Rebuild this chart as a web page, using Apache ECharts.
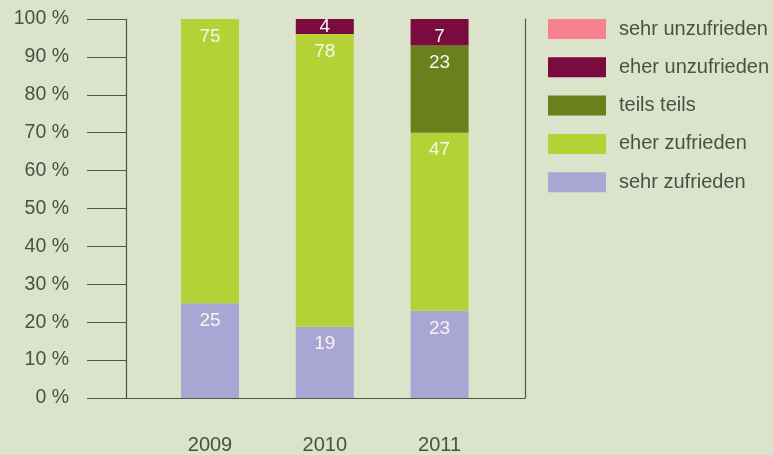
<!DOCTYPE html>
<html>
<head>
<meta charset="utf-8">
<script src="https://cdn.jsdelivr.net/npm/echarts@6/dist/echarts.min.js"></script>
<style>
  html, body { margin: 0; padding: 0; background: #dce3cb; }
  #chart { width: 773px; height: 455px; }
</style>
</head>
<body>
<div id="chart"></div>
<script>
// Zufriedenheit nach Jahr (Antworten je Kategorie)
const years = ['2009', '2010', '2011'];
const sehrZufrieden = [25, 19, 23];
const eherZufrieden = [75, 78, 47];
const teilsTeils = [0, 0, 23];
const eherUnzufrieden = [0, 4, 7];
const sehrUnzufrieden = [0, 0, 0];
const yTicks = [0, 10, 20, 30, 40, 50, 60, 70, 80, 90, 100];

const groups = [
  { name: 'sehr zufrieden', values: sehrZufrieden, color: '#a9a6d4' },
  { name: 'eher zufrieden', values: eherZufrieden, color: '#b4d235' },
  { name: 'teils teils', values: teilsTeils, color: '#6b7f1c' },
  { name: 'eher unzufrieden', values: eherUnzufrieden, color: '#7a0b3e' },
  { name: 'sehr unzufrieden', values: sehrUnzufrieden, color: '#f7818f' }
];

// each year is drawn as a 100 % column: shares of the year's total
const totals = years.map((_, i) => groups.reduce((s, g) => s + g.values[i], 0));

const FONT = 'Liberation Sans, Arial, sans-serif';
const AXIS = '#4f5641';
const TEXT = '#4b5046';

const chart = echarts.init(document.getElementById('chart'), null, { renderer: 'canvas' });

chart.setOption({
  backgroundColor: '#dce3cb',
  animation: false,
  textStyle: { fontFamily: FONT },
  legend: {
    orient: 'vertical',
    left: 543,
    top: 14,
    itemWidth: 58,
    itemHeight: 20,
    itemGap: 18.3,
    icon: 'rect',
    selectedMode: false,
    data: groups.slice().reverse().map(g => g.name),
    textStyle: { fontSize: 20, color: TEXT, fontFamily: FONT, padding: [0, 0, 0, 8] }
  },
  grid: [
    // frame with the axes
    { left: 126, right: 248, top: 19, bottom: 57, containLabel: false },
    // columns
    { left: 152.6, right: 276, top: 19, bottom: 57, containLabel: false }
  ],
  xAxis: [
    {
      gridIndex: 0, type: 'value', min: 0, max: 1,
      axisLine: { show: true, onZero: false, lineStyle: { color: AXIS, width: 1.2 } },
      axisTick: { show: false }, axisLabel: { show: false }, splitLine: { show: false }
    },
    {
      gridIndex: 1, type: 'category', data: years,
      axisLine: { show: false }, axisTick: { show: false },
      axisLabel: { margin: 37, fontSize: 20, color: TEXT, fontFamily: FONT }
    }
  ],
  yAxis: [
    {
      gridIndex: 0, type: 'value', min: 0, max: 100, interval: 10,
      axisLine: { show: true, lineStyle: { color: AXIS, width: 1.2 } },
      axisTick: { show: true, length: 39, lineStyle: { color: AXIS, width: 1.2 } },
      axisLabel: {
        margin: 57, fontSize: 19.5, color: TEXT, fontFamily: FONT,
        formatter: v => (yTicks.includes(v) ? v + ' %' : '')
      },
      splitLine: { show: false }
    },
    {
      gridIndex: 0, type: 'value', min: 0, max: 100, position: 'right',
      axisLine: { show: true, lineStyle: { color: AXIS, width: 1.2 } },
      axisTick: { show: false }, axisLabel: { show: false }, splitLine: { show: false }
    },
    {
      gridIndex: 1, type: 'value', min: 0, max: 100, show: false
    }
  ],
  series: groups.map(g => ({
    name: g.name,
    type: 'bar',
    stack: 'anteil',
    xAxisIndex: 1,
    yAxisIndex: 2,
    barWidth: 58,
    itemStyle: { color: g.color },
    label: {
      show: true,
      position: 'insideTop',
      distance: 8,
      fontSize: 19,
      color: '#f6f4ef',
      fontFamily: FONT,
      formatter: p => (g.values[p.dataIndex] > 0 ? String(g.values[p.dataIndex]) : '')
    },
    data: g.values.map((v, i) => {
      const share = v / totals[i] * 100;
      // thin segments keep their number centred inside the segment
      return share > 0 && share < 5
        ? { value: share, label: { position: 'inside' } }
        : share;
    })
  }))
});
</script>
</body>
</html>
